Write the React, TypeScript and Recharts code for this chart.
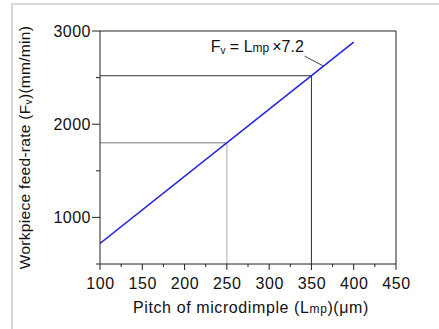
import { Label, Line, LineChart, ReferenceDot, ReferenceLine, XAxis, YAxis } from "recharts";

const pitchValues = [100, 400];
const feedRates = [720, 2880];
const xTicks = [100, 125, 150, 175, 200, 225, 250, 275, 300, 325, 350, 375, 400, 425, 450];
const yTicks = [500, 1000, 1500, 2000, 2500, 3000];
const guideLow = { pitch: 250, feed: 1800 };
const guideHigh = { pitch: 350, feed: 2520 };

const data = pitchValues.map((p, i) => ({ pitch: p, feed: feedRates[i] }));

const font = "'Liberation Sans', Arial, sans-serif";
const ink = "#222";

function XTick(props: any) {
  const { x, y, payload } = props;
  const major = payload.value % 50 === 0;
  return (
    <g>
      <line x1={x} x2={x} y1={y} y2={y + (major ? 6 : 3)} stroke={ink} />
      {major && (
        <text x={x + 0.5} y={y + 25} textAnchor="middle" fontSize={16} letterSpacing={0.6} fill="#111" fontFamily={font}>
          {payload.value}
        </text>
      )}
    </g>
  );
}

function YTick(props: any) {
  const { x, y, payload } = props;
  const major = payload.value % 1000 === 0;
  return (
    <g>
      <line x1={x - (major ? 8 : 4)} x2={x} y1={y} y2={y} stroke={ink} />
      {major && (
        <text x={x - 9} y={y + 5.5} textAnchor="end" fontSize={16} letterSpacing={0.5} fill="#111" fontFamily={font}>
          {payload.value}
        </text>
      )}
    </g>
  );
}

function XTitle(props: any) {
  const vb = props.viewBox;
  return (
    <text
      x={vb.x + vb.width / 2 + 3}
      y={vb.y + 49}
      textAnchor="middle"
      fontSize={16}
      letterSpacing={0.6}
      fill="#111"
      fontFamily={font}
    >
      Pitch of microdimple (L<tspan fontSize={12}>mp</tspan>)(μm)
    </text>
  );
}

function YTitle(props: any) {
  const vb = props.viewBox;
  const cx = 30;
  const cy = vb.y + vb.height / 2;
  return (
    <text
      x={cx}
      y={cy}
      transform={`rotate(-90 ${cx} ${cy})`}
      textAnchor="middle"
      fontSize={15.5}
      letterSpacing={0.3}
      fill="#111"
      fontFamily={font}
    >
      Workpiece feed-rate (F<tspan fontSize={10} dy={2}>v</tspan>
      <tspan dy={-2}>)(mm/min)</tspan>
    </text>
  );
}

function FormulaLabel(props: any) {
  const vb = props.viewBox;
  const x = vb.x + (vb.width || 0) / 2;
  const y = vb.y + (vb.height || 0) / 2;
  return (
    <text x={x} y={y} textAnchor="end" fontSize={16} fill="#111" fontFamily={font}>
      F<tspan fontSize={10} dy={2}>v</tspan>
      <tspan dy={-2}> = L</tspan>
      <tspan fontSize={12}>mp</tspan>
      <tspan dx={3}>×7.2</tspan>
    </text>
  );
}

export default function App() {
  return (
    <div style={{ position: "absolute", left: 0, top: 0, width: 439, height: 329, background: "#fff" }}>
      <div
        style={{
          position: "absolute",
          left: 11,
          top: 3,
          width: 428,
          height: 326,
          borderTop: "2px solid #d6d6d6",
          borderLeft: "2px solid #d6d6d6",
          boxSizing: "border-box",
        }}
      />
      <LineChart
        width={439}
        height={329}
        data={data}
        margin={{ top: 31, right: 43, left: 0, bottom: 0 }}
        style={{ position: "absolute", left: 0, top: 0 }}
      >
        <XAxis
          dataKey="pitch"
          type="number"
          domain={[100, 450]}
          ticks={xTicks}
          interval={0}
          height={65}
          tickSize={0}
          tickMargin={0}
          tickLine={false}
          tick={<XTick />}
          axisLine={{ stroke: ink }}
          allowDataOverflow
        >
          <Label content={<XTitle />} />
        </XAxis>
        <YAxis
          type="number"
          domain={[500, 3000]}
          ticks={yTicks}
          interval={0}
          width={100}
          tickSize={0}
          tickMargin={0}
          tickLine={false}
          tick={<YTick />}
          axisLine={{ stroke: ink }}
          allowDataOverflow
        >
          <Label content={<YTitle />} />
        </YAxis>
        <ReferenceLine y={3000} stroke={ink} />
        <ReferenceLine x={450} stroke={ink} />
        <ReferenceLine
          segment={[
            { x: 100, y: guideLow.feed },
            { x: guideLow.pitch, y: guideLow.feed },
          ]}
          stroke="#777"
        />
        <ReferenceLine
          segment={[
            { x: guideLow.pitch, y: guideLow.feed },
            { x: guideLow.pitch, y: 500 },
          ]}
          stroke="#aaa"
        />
        <ReferenceLine
          segment={[
            { x: 100, y: guideHigh.feed },
            { x: guideHigh.pitch, y: guideHigh.feed },
          ]}
          stroke="#333"
        />
        <ReferenceLine
          segment={[
            { x: guideHigh.pitch, y: guideHigh.feed },
            { x: guideHigh.pitch, y: 500 },
          ]}
          stroke="#333"
        />
        <ReferenceLine
          segment={[
            { x: 342, y: 2730 },
            { x: 364, y: 2625 },
          ]}
          stroke="#444"
        />
        <ReferenceDot x={341} y={2775} r={0} stroke="none" fill="none">
          <Label content={<FormulaLabel />} />
        </ReferenceDot>
        <Line
          dataKey="feed"
          stroke="#2424d8"
          strokeWidth={1.6}
          dot={false}
          isAnimationActive={false}
        />
      </LineChart>
    </div>
  );
}
